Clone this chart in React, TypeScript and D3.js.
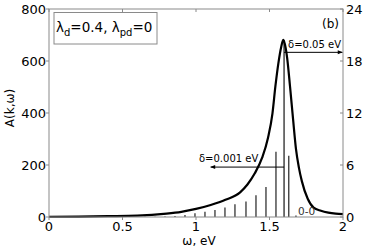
import React from "react";
import * as d3 from "d3";

// Broad spectrum (delta = 0.05 eV), right-axis units
const curveOmega = [0, 0.2, 0.4, 0.6, 0.8, 0.9, 1.0, 1.1, 1.2, 1.3, 1.35, 1.4, 1.45, 1.49, 1.52, 1.54, 1.56, 1.58, 1.594, 1.61, 1.62, 1.64, 1.66, 1.68, 1.7, 1.72, 1.76, 1.8, 1.85, 1.9, 1.95, 2.0];
const curveLeftUnits = [1, 1.5, 3, 5, 13, 20, 31, 46, 66, 95, 125, 168, 228, 305, 398, 502, 590, 655, 681, 650, 612, 500, 378, 262, 190, 138, 70, 36, 24, 17, 13, 11];
const curveValues = curveLeftUnits.map((v) => (v * 24) / 800);

// Narrow spectrum (delta = 0.001 eV) spikes, left-axis units
const spikeOmega = [0.653, 0.721, 0.789, 0.857, 0.925, 0.993, 1.061, 1.129, 1.197, 1.265, 1.34, 1.408, 1.476, 1.544, 1.599, 1.631, 1.68];
const spikeValues = [0.5, 1, 2, 3.5, 8, 14, 20, 27, 37, 49, 60, 84, 115, 251, 681, 236, 6];

const xTicks = [0, 0.5, 1, 1.5, 2];
const xTickLabels = ["0", "0.5", "1", "1.5", "2"];
const yLeftTicks = [0, 200, 400, 600, 800];
const yRightTicks = [0, 6, 12, 18, 24];

const W = 374;
const H = 252;
const FONT = "DejaVu Sans, sans-serif";
const AXIS = "#8a8a8a";

export default function App() {
  const x = d3.scaleLinear().domain([0, 2]).range([49, 343]);
  const yL = d3.scaleLinear().domain([0, 800]).range([217, 9]);
  const yR = d3.scaleLinear().domain([0, 24]).range([217, 9]);

  const line = d3
    .line<number>()
    .x((_, i) => x(curveOmega[i]))
    .y((d) => yR(d))
    .curve(d3.curveMonotoneX);

  const [x0, x1] = x.range();
  const [yb, yt] = yL.range();

  // annotation anchors (data units)
  const peakW = 1.599;
  const arrowNarrowY = 192; // left units
  const arrowBroadY = 19.0; // right units

  return (
    <div style={{ position: "absolute", left: 0, top: 0 }}>
      <svg width={W} height={H} style={{ display: "block", background: "#fff" }} fontFamily={FONT}>
        <defs>
          <marker id="ah" viewBox="0 0 10 10" refX="9" refY="5" markerWidth="6" markerHeight="5" orient="auto-start-reverse" markerUnits="userSpaceOnUse">
            <path d="M0,1 L10,5 L0,9 z" fill="#000" />
          </marker>
        </defs>

        {/* spikes */}
        {spikeOmega.map((w, i) => (
          <line key={"s" + i} x1={x(w)} x2={x(w)} y1={yL(0)} y2={yL(spikeValues[i])} stroke={i === 14 ? "#000" : "#333"} strokeWidth={i === 14 ? 1.1 : 1.3} />
        ))}

        {/* broad curve */}
        <path d={line(curveValues) || ""} fill="none" stroke="#000" strokeWidth={2.2} strokeLinejoin="round" />

        {/* frame */}
        <rect x={x0} y={yt} width={x1 - x0} height={yb - yt} fill="none" stroke={AXIS} strokeWidth={1} />

        {/* x ticks */}
        {xTicks.map((t, i) => (
          <g key={"xt" + i}>
            <line x1={x(t)} x2={x(t)} y1={yb} y2={yb + 3} stroke={AXIS} />
            <line x1={x(t)} x2={x(t)} y1={yt} y2={yt + 3} stroke={AXIS} />
            <text x={x(t)} y={231} textAnchor="middle" fontSize={13} fill="#000">
              {xTickLabels[i]}
            </text>
          </g>
        ))}

        {/* left ticks */}
        {yLeftTicks.map((t) => (
          <g key={"yl" + t}>
            <line x1={x0 - 3} x2={x0} y1={yL(t)} y2={yL(t)} stroke={AXIS} />
            <text x={46} y={yL(t)} dy="0.36em" textAnchor="end" fontSize={13} fill="#000">
              {t}
            </text>
          </g>
        ))}

        {/* right ticks */}
        {yRightTicks.map((t) => (
          <g key={"yr" + t}>
            <line x1={x1 - 3} x2={x1} y1={yR(t)} y2={yR(t)} stroke={AXIS} />
            <text x={346} y={yR(t)} dy="0.36em" textAnchor="start" fontSize={13} fill="#000">
              {t}
            </text>
          </g>
        ))}

        {/* axis labels */}
        <text x={199} y={245} textAnchor="middle" fontSize={12} fill="#000">
          ω, eV
        </text>
        <text transform="translate(14,108) rotate(-90)" textAnchor="middle" fontSize={12} fill="#000">
          A(k,ω)
        </text>

        {/* legend box */}
        <rect x={54} y={12.5} width={103} height={31.5} fill="#fff" stroke={AXIS} strokeWidth={1} />
        <text x={56} y={32} fontSize={13.5} fill="#000">
          λ<tspan fontSize={10} dy={4}>d</tspan>
          <tspan dy={-4}>=0.4, λ</tspan>
          <tspan fontSize={10} dy={4}>pd</tspan>
          <tspan dy={-4}>=0</tspan>
        </text>

        {/* (b) */}
        <text x={339} y={28} textAnchor="end" fontSize={12} fill="#000">
          (b)
        </text>

        {/* delta = 0.05 arrow */}
        <line x1={x(peakW)} x2={x(1.995)} y1={yR(arrowBroadY)} y2={yR(arrowBroadY)} stroke="#000" strokeWidth={1} markerEnd="url(#ah)" />
        <text x={341} y={47.5} textAnchor="end" fontSize={10} fill="#000">
          δ=0.05 eV
        </text>

        {/* delta = 0.001 arrow */}
        <line x1={x(peakW)} x2={x(1.1)} y1={yL(arrowNarrowY)} y2={yL(arrowNarrowY)} stroke="#000" strokeWidth={1} markerEnd="url(#ah)" />
        <text x={199} y={162} textAnchor="start" fontSize={10} fill="#000">
          δ=0.001 eV
        </text>

        {/* 0-0 label */}
        <text x={298} y={215} fontSize={10.5} fill="#333">
          0-0
        </text>
      </svg>
    </div>
  );
}
